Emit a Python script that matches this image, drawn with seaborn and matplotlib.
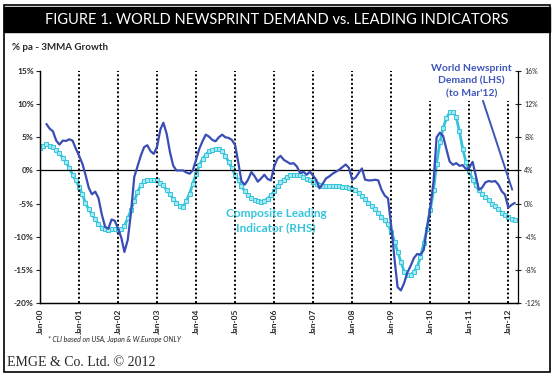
import matplotlib
matplotlib.use("Agg")
import matplotlib.pyplot as plt
import matplotlib.dates as mdates
from matplotlib.patches import Rectangle
import numpy as np
import pandas as pd
import seaborn as sns

sns.set_style("white")
plt.rcParams['font.family'] = ['Lato', 'DejaVu Sans']

# --- data (% pa 3MMA growth) ---
# composite leading indicator, Jan-00 .. Mar-12 (RHS)
cli = [6.7, 7.0, 7.2, 7.0, 6.8, 6.5, 6.1, 5.5, 5.0, 4.3, 3.5, 2.8,
       2.0, 1.1, 0.1, -0.7, -1.3, -1.9, -2.5, -2.9, -3.1, -3.2, -3.1, -3.1,
       -3.2, -3.1, -2.7, -1.8, -0.8, 0.3, 1.4, 2.2, 2.7, 2.9, 2.9, 2.8,
       2.8, 2.5, 2.2, 1.6, 1.1, 0.6, 0.1, -0.3, -0.4, 0.3, 1.2, 2.4,
       3.6, 4.6, 5.4, 5.9, 6.3, 6.5, 6.6, 6.6, 6.3, 5.8, 5.0, 4.3,
       3.4, 2.8, 2.1, 1.5, 1.0, 0.7, 0.45, 0.3, 0.2, 0.35, 0.6, 1.0,
       1.5, 2.1, 2.6, 2.9, 3.2, 3.4, 3.5, 3.5, 3.4, 3.2, 3.0, 2.8,
       2.6, 2.4, 2.2, 2.1, 2.1, 2.1, 2.1, 2.1, 2.1, 2.0, 2.0, 1.9,
       1.8, 1.6, 1.3, 0.9, 0.5, 0.1, -0.3, -0.7, -1.1, -1.6, -2.0, -2.5,
       -3.4, -4.6, -5.8, -7.0, -8.2, -8.6, -8.6, -8.2, -7.6, -6.5, -4.8, -3.1,
       -0.8, 1.6, 4.8, 7.4, 9.1, 10.3, 11.0, 11.1, 10.4, 8.7, 6.6, 5.0,
       3.9, 2.9, 2.2, 1.6, 1.1, 0.8, 0.4, 0.0, -0.3, -0.7, -1.1, -1.4,
       -1.6, -1.9, -2.0]

# world newsprint demand, Mar-00 .. Mar-12 (LHS)
demand = [7.0, 6.3, 5.9, 4.5, 3.9, 4.5, 4.45, 4.7, 4.5, 3.3,
          2.2, 1.0, -0.6, -2.6, -3.6, -3.2, -4.15, -6.6, -8.5, -8.8, -7.4, -7.6,
          -8.8, -10.2, -12.3, -10.5, -6.5, -1.0, 0.6, 2.2, 3.5, 3.8, 2.9, 2.5,
          3.6, 6.2, 7.2, 5.5, 2.8, 0.7, 0.0, 0.0, 0.0, -0.3, -0.5, 0.0,
          1.6, 3.3, 4.4, 5.4, 5.1, 4.6, 4.4, 5.0, 5.4, 5.0, 4.9, 4.6,
          3.8, 1.0, -1.65, -2.15, -1.4, -0.25, -0.85, -1.7, -1.2, -0.65, -1.3, -1.5,
          0.6, 1.8, 2.2, 1.6, 1.3, 1.0, 1.1, 0.6, -0.4, -0.2, -0.65, -0.2,
          -0.8, -1.5, -2.7, -2.0, -1.2, -0.9, -0.5, -0.2, 0.1, 0.5, 0.9, 0.4,
          -1.4, -1.1, -0.4, 0.3, -1.4, -1.5, -1.5, -1.4, -1.5, -2.9, -3.8, -4.2,
          -8.5, -13.5, -17.6, -18.1, -17.0, -15.4, -14.4, -13.2, -12.6, -12.7, -12.0, -8.6,
          -5.6, -1.6, 5.0, 5.7, 5.2, 3.2, 1.35, 0.85, 1.1, 0.7, 0.8, 0.2,
          0.4, 1.3, -0.65, -2.9, -2.6, -1.8, -1.6, -1.7, -1.6, -2.15, -3.15, -3.65,
          -5.6, -5.2, -4.9]

months = pd.date_range("2000-01-01", periods=len(cli), freq="MS")
df_cli = pd.DataFrame({"date": months, "cli": cli})
df_dem = pd.DataFrame({"date": months[2:], "demand": demand})

BLUE = "#3a4db5"
CYAN = "#35c5db"

# --- figure ---
W, H = 553, 377
fig = plt.figure(figsize=(W / 100, H / 100), dpi=100)
fig.patch.set_facecolor("white")
ax = fig.add_axes([40 / W, 1 - 303 / H, 478 / W, 232 / H])
ax2 = ax.twinx()

# outer frame + title bar
fig.patches.append(Rectangle((4 / W, 5 / H), 546 / W, 367 / H, transform=fig.transFigure,
                             fill=False, ec="black", lw=1.2))
fig.patches.append(Rectangle((4 / W, 1 - 32 / H), 546 / W, 25 / H, transform=fig.transFigure,
                             fc="black", ec="black"))
fig.text(277 / W, 1 - 19.5 / H, "FIGURE 1. WORLD NEWSPRINT DEMAND vs. LEADING INDICATORS",
         color="white", fontsize=10.5, ha="center", va="center")
fig.text(12 / W, 1 - 47 / H, "% pa - 3MMA Growth", fontsize=7, fontweight="bold", va="center")
fig.text(48 / W, 1 - 339 / H, "* CLI based on USA, Japan & W.Europe ONLY", fontsize=5,
         style="italic", va="center")
fig.text(7 / W, 1 - 363 / H, "EMGE & Co. Ltd. \u00a9 2012", fontsize=10,
         family=["Liberation Serif", "DejaVu Serif"], va="center")

# vertical dotted year lines
for yr in range(2001, 2013):
    ax.axvline(pd.Timestamp(f"{yr}-01-01"), color="black", ls=(0, (1, 1.2)), lw=1.4, zorder=1)
ax.axhline(0, color="black", lw=0.9, zorder=1)

sns.lineplot(data=df_dem, x="date", y="demand", ax=ax, color=BLUE, lw=1.6, zorder=3)
sns.lineplot(data=df_cli, x="date", y="cli", ax=ax2, color=CYAN, lw=2.0, marker="s",
             markersize=2.6, markerfacecolor="#a6e9f2", markeredgecolor=CYAN,
             markeredgewidth=0.7, zorder=2)

# place demand above the cli line
ax.set_zorder(ax2.get_zorder() + 1)
ax.patch.set_visible(False)

ax.set_xlim(pd.Timestamp("2000-01-01"), pd.Timestamp("2012-04-01"))
ax.set_ylim(-20, 15)
ax.set_yticks(np.arange(-20, 16, 5))
ax.set_yticklabels([f"{v}%" for v in range(-20, 16, 5)], fontsize=6, fontweight="bold")
ax2.set_ylim(-12, 16)
ax2.set_yticks(np.arange(-12, 17, 4))
ax2.set_yticklabels([f"{v}%" for v in range(-12, 17, 4)], fontsize=5)

ax.xaxis.set_major_locator(mdates.YearLocator())
ax.xaxis.set_major_formatter(mdates.DateFormatter("%b-%y"))
for lab in ax.get_xticklabels():
    lab.set_rotation(90)
    lab.set_fontsize(6)
    lab.set_fontweight("bold")
ax.tick_params(axis="x", length=0, pad=4)
ax.tick_params(axis="y", direction="out", length=3, width=0.8, pad=1.5)
ax2.tick_params(axis="y", direction="inout", length=5, width=0.8, pad=2)
ax.set_xlabel("")
ax.set_ylabel("")
ax2.set_ylabel("")

for a in (ax, ax2):
    a.spines["top"].set_visible(False)
    for s in ("left", "right", "bottom"):
        a.spines[s].set_color("black")
        a.spines[s].set_linewidth(0.9)
ax.spines["right"].set_visible(False)

# annotations
ax.text(pd.Timestamp("2011-01-20"), 10.9, "World Newsprint\nDemand (LHS)\n(to Mar'12)",
        color="#3d55b8", fontsize=7.5, fontweight="bold", ha="center", va="bottom",
        linespacing=1.5, zorder=4,
        bbox=dict(fc="white", ec="none", pad=2))
ax.annotate("", xy=(pd.Timestamp("2012-02-15"), -3.3), xytext=(pd.Timestamp("2011-05-01"), 10.9),
            arrowprops=dict(arrowstyle="-", color="#3d55b8", lw=1.4), zorder=4)
ax.text(pd.Timestamp("2006-01-20"), -7.6, "Composite Leading\nIndicator (RHS)",
        color=CYAN, fontsize=8.5, fontweight="bold", ha="center", va="center",
        linespacing=1.3, zorder=4)

fig.savefig("out.png", dpi=100)
